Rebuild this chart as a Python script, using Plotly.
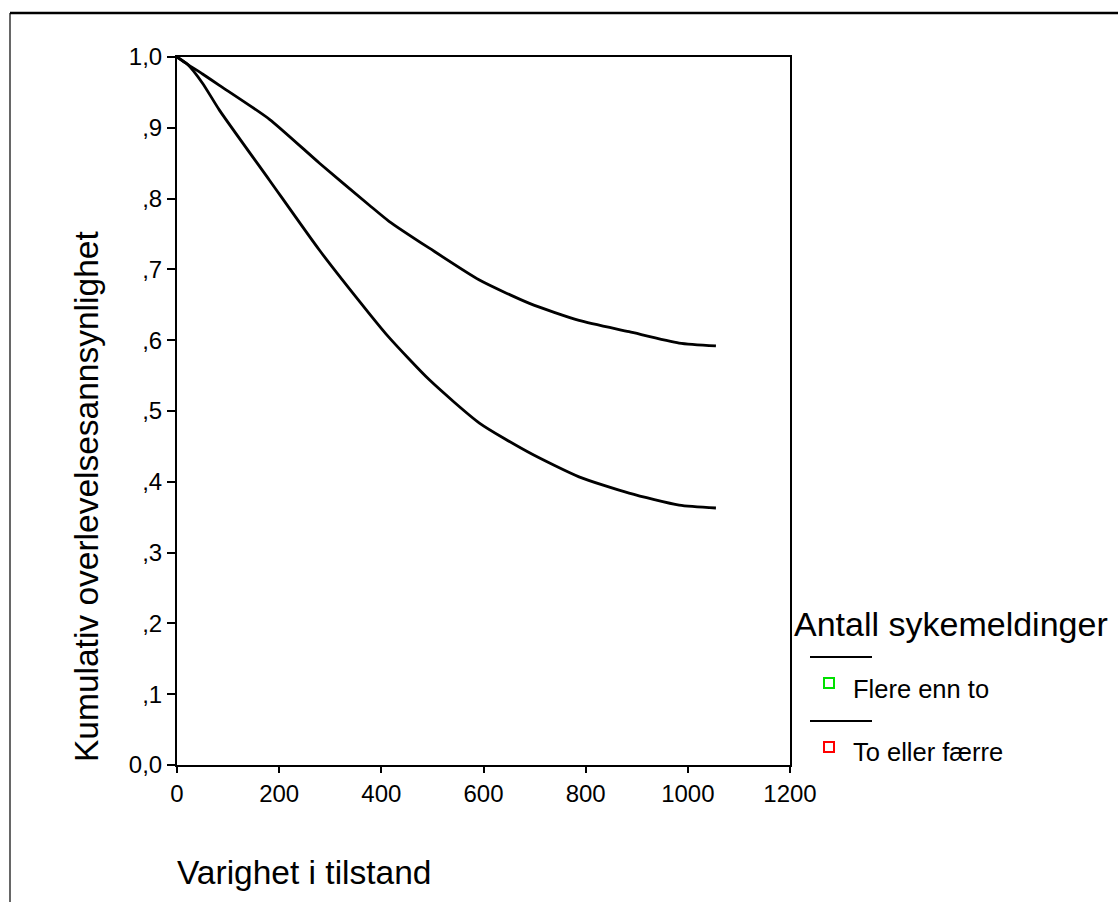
import plotly.graph_objects as go

# Kaplan-Meier style survival curves
t_upper = [0, 20, 50, 83, 181, 279, 376, 415, 494, 592, 690, 787, 885, 983, 1055]
s_upper = [1.0, 0.990, 0.976, 0.960, 0.912, 0.850, 0.791, 0.768, 0.730, 0.685, 0.652, 0.628, 0.612, 0.596, 0.592]

t_lower = [0, 20, 50, 83, 181, 279, 376, 415, 494, 592, 690, 787, 885, 983, 1055]
s_lower = [1.0, 0.990, 0.963, 0.925, 0.826, 0.727, 0.638, 0.604, 0.544, 0.483, 0.441, 0.407, 0.384, 0.367, 0.363]

x_ticks = [0, 200, 400, 600, 800, 1000, 1200]
y_ticks = [0.0, 0.1, 0.2, 0.3, 0.4, 0.5, 0.6, 0.7, 0.8, 0.9, 1.0]
y_ticktext = ["0,0", ",1", ",2", ",3", ",4", ",5", ",6", ",7", ",8", ",9", "1,0"]

legend_title = "Antall sykemeldinger"
legend_names = ["Flere enn to", "To eller færre"]
legend_colors = ["#00e000", "#ff0000"]

FONT = "Liberation Sans, Arial, sans-serif"

fig = go.Figure()
fig.add_trace(go.Scatter(x=t_upper, y=s_upper, mode="lines", name=legend_names[1],
                         line=dict(color="black", width=2.8, shape="spline", smoothing=0.6),
                         showlegend=False))
fig.add_trace(go.Scatter(x=t_lower, y=s_lower, mode="lines", name=legend_names[0],
                         line=dict(color="black", width=2.8, shape="spline", smoothing=0.6),
                         showlegend=False))

W, H = 1118, 902
L, R, T, B = 177, 790, 57, 765
pw, ph = R - L, B - T

def px(x):
    return (x - L) / pw

def py(y):
    return (B - y) / ph

shapes = [
    # outer frame
    dict(type="line", xref="paper", yref="paper", x0=px(10), x1=px(1120), y0=py(13), y1=py(13),
         line=dict(color="black", width=2.5)),
    dict(type="line", xref="paper", yref="paper", x0=px(10), x1=px(10), y0=py(13), y1=py(905),
         line=dict(color="black", width=1.2)),
    # legend lines
    dict(type="line", xref="paper", yref="paper", x0=px(810), x1=px(872), y0=py(657), y1=py(657),
         line=dict(color="black", width=2)),
    dict(type="line", xref="paper", yref="paper", x0=px(810), x1=px(872), y0=py(721), y1=py(721),
         line=dict(color="black", width=2)),
    # legend squares
    dict(type="rect", xref="paper", yref="paper", x0=px(824), x1=px(834), y0=py(688), y1=py(678),
         line=dict(color=legend_colors[0], width=2)),
    dict(type="rect", xref="paper", yref="paper", x0=px(824), x1=px(834), y0=py(752), y1=py(742),
         line=dict(color=legend_colors[1], width=2)),
]

annotations = [
    dict(text="Kumulativ overlevelsesannsynlighet", xref="paper", yref="paper",
         x=px(86), y=py(497), textangle=-90, showarrow=False,
         font=dict(family=FONT, size=33.5, color="black"), xanchor="center", yanchor="middle"),
    dict(text="Varighet i tilstand", xref="paper", yref="paper",
         x=px(175), y=py(872), showarrow=False,
         font=dict(family=FONT, size=33.5, color="black"), xanchor="left", yanchor="middle"),
    dict(text=legend_title, xref="paper", yref="paper",
         x=px(792), y=py(624), showarrow=False,
         font=dict(family=FONT, size=34, color="black"), xanchor="left", yanchor="middle"),
    dict(text=legend_names[0], xref="paper", yref="paper",
         x=px(851), y=py(689), showarrow=False,
         font=dict(family=FONT, size=25.5, color="black"), xanchor="left", yanchor="middle"),
    dict(text=legend_names[1], xref="paper", yref="paper",
         x=px(851), y=py(752), showarrow=False,
         font=dict(family=FONT, size=25.5, color="black"), xanchor="left", yanchor="middle"),
]

fig.update_layout(
    width=W, height=H,
    margin=dict(l=L, r=W - R, t=T, b=H - B, pad=0),
    paper_bgcolor="white", plot_bgcolor="white",
    font=dict(family=FONT, size=24, color="black"),
    shapes=shapes, annotations=annotations,
    showlegend=False,
)
fig.update_xaxes(range=[0, 1200], tickvals=x_ticks, ticks="outside", ticklen=6, tickwidth=2,
                 tickcolor="black", showline=True, linecolor="black", linewidth=2, mirror=True,
                 showgrid=False, zeroline=False, tickfont=dict(family=FONT, size=24))
fig.update_yaxes(range=[0, 1], tickvals=y_ticks, ticktext=y_ticktext, ticks="outside", ticklen=8,
                 tickwidth=2, tickcolor="black", showline=True, linecolor="black", linewidth=2,
                 mirror=True, showgrid=False, zeroline=False, tickfont=dict(family=FONT, size=24))

fig.write_html("out.html")
